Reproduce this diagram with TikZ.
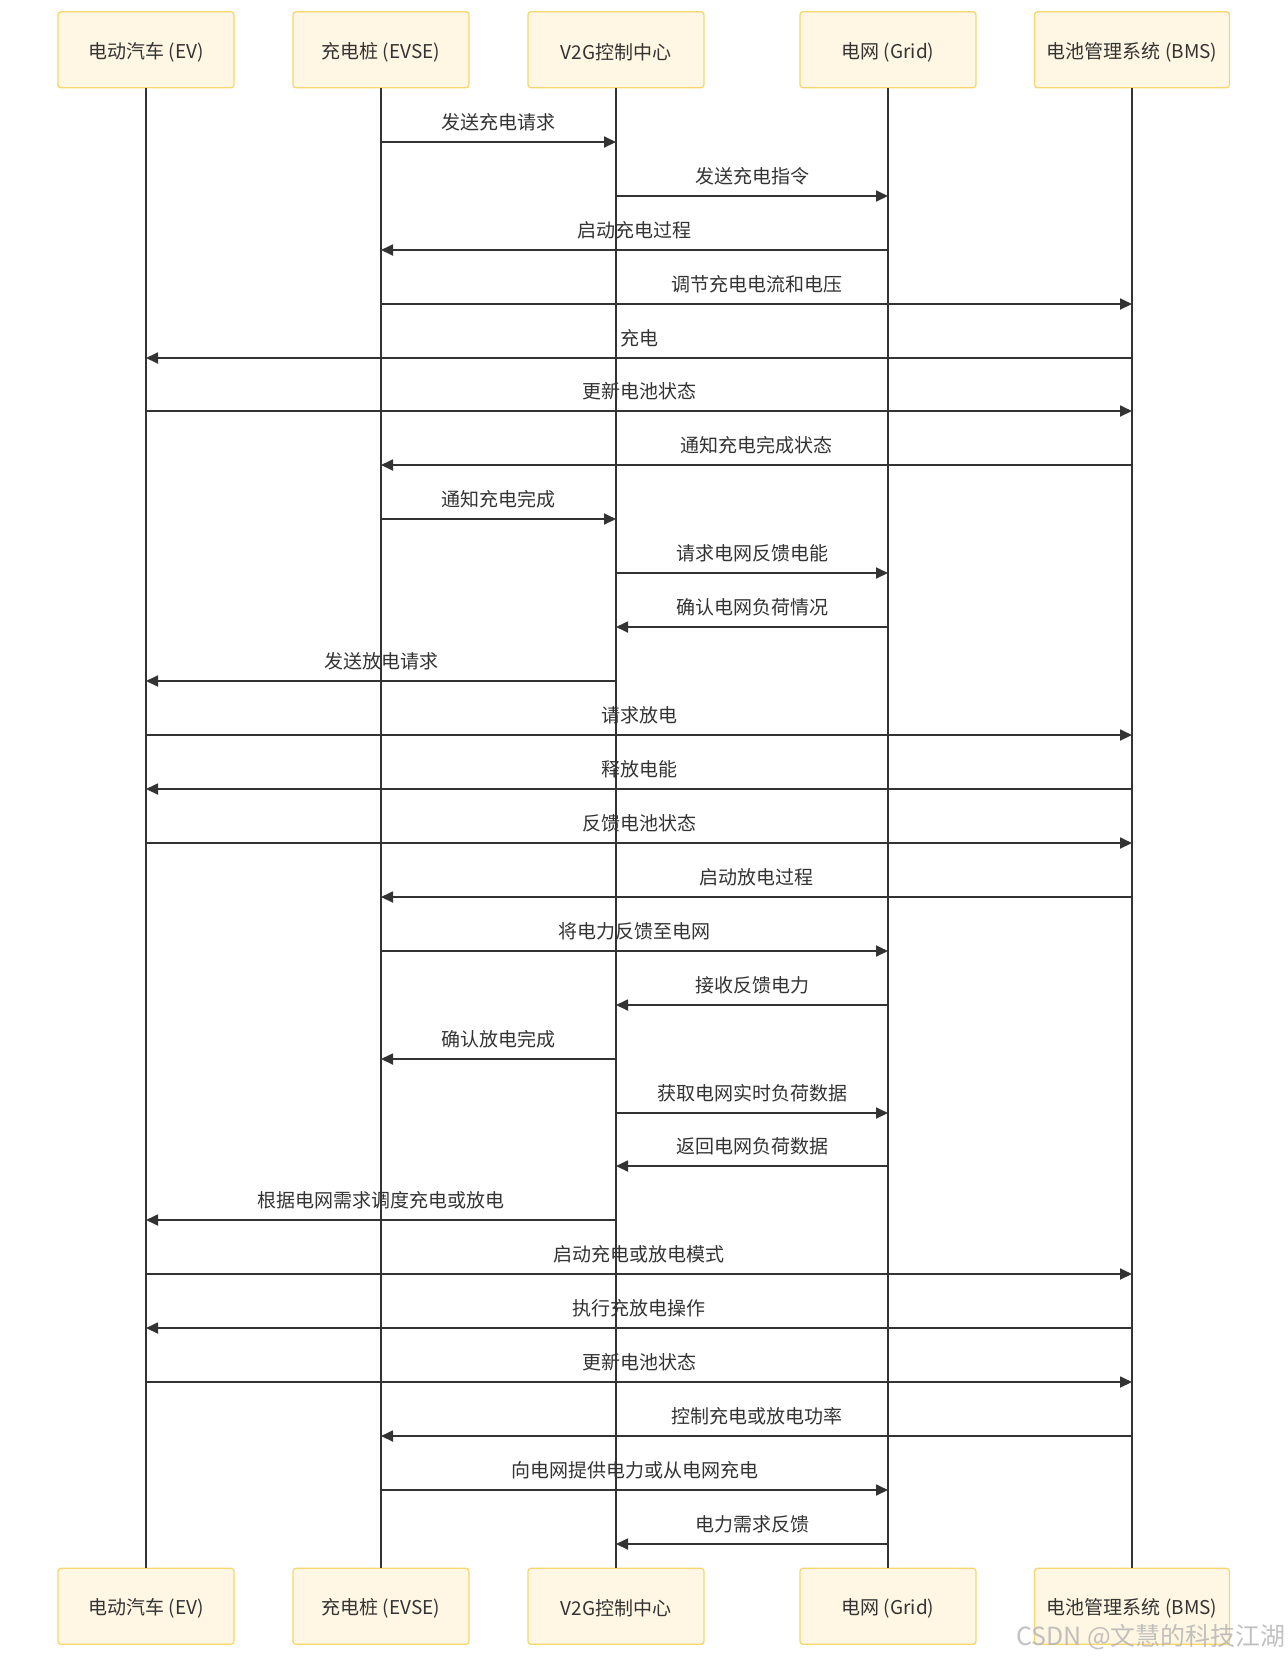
\documentclass[tikz,border=0pt]{standalone}
\usepackage{fontspec}
\setmainfont{Noto Sans CJK SC}
\usetikzlibrary{arrows.meta,calc}
\definecolor{boxfill}{HTML}{FFF7E3}
\definecolor{boxdraw}{HTML}{F9D56E}
\definecolor{ink}{HTML}{333333}
\newcommand\actortext[1]{\raisebox{-2.2pt}[\height][\depth]{#1}}
\begin{document}
\begin{tikzpicture}[x=1pt,y=1pt,
  actor/.style={draw=boxdraw,fill=boxfill,line width=1.3pt,rounded corners=3pt,
    minimum height=76pt,inner sep=0pt,text=ink,font=\fontsize{19}{23}\selectfont},
  lifeline/.style={draw=ink,line width=2pt},
  msg/.style={draw=ink,line width=1.8pt,-{Triangle[length=12pt,width=11pt]}},
  msglabel/.style={text=ink,font=\fontsize{19}{23}\selectfont,inner sep=0pt}]
\useasboundingbox (0,0) rectangle (1288,-1658);
% actors top
\node[actor,minimum width=176pt] (evT)   at (146,-49.8) {\actortext{电动汽车 (EV)}};
\node[actor,minimum width=176pt] (evseT) at (381,-49.8) {\actortext{充电桩 (EVSE)}};
\node[actor,minimum width=176pt] (v2gT)  at (616,-49.8) {\actortext{V2G控制中心}};
\node[actor,minimum width=176pt] (gridT) at (888,-49.8) {\actortext{电网 (Grid)}};
\node[actor,minimum width=195pt] (bmsT)  at (1132,-49.8) {\actortext{电池管理系统 (BMS)}};
% actors bottom
\node[actor,minimum width=176pt] (evB)   at (146,-1606.3) {\actortext{电动汽车 (EV)}};
\node[actor,minimum width=176pt] (evseB) at (381,-1606.3) {\actortext{充电桩 (EVSE)}};
\node[actor,minimum width=176pt] (v2gB)  at (616,-1606.3) {\actortext{V2G控制中心}};
\node[actor,minimum width=176pt] (gridB) at (888,-1606.3) {\actortext{电网 (Grid)}};
\node[actor,minimum width=195pt] (bmsB)  at (1132,-1606.3) {\actortext{电池管理系统 (BMS)}};
% lifelines
\foreach \a in {ev,evse,v2g,grid,bms}{
  \draw[lifeline] (\a T.south) -- (\a B.north);
}
% messages
\foreach \f/\t/\txt [count=\i] in {
  evse/v2g/发送充电请求,
  v2g/grid/发送充电指令,
  grid/evse/启动充电过程,
  evse/bms/调节充电电流和电压,
  bms/ev/充电,
  ev/bms/更新电池状态,
  bms/evse/通知充电完成状态,
  evse/v2g/通知充电完成,
  v2g/grid/请求电网反馈电能,
  grid/v2g/确认电网负荷情况,
  v2g/ev/发送放电请求,
  ev/bms/请求放电,
  bms/ev/释放电能,
  ev/bms/反馈电池状态,
  bms/evse/启动放电过程,
  evse/grid/将电力反馈至电网,
  grid/v2g/接收反馈电力,
  v2g/evse/确认放电完成,
  v2g/grid/获取电网实时负荷数据,
  grid/v2g/返回电网负荷数据,
  v2g/ev/根据电网需求调度充电或放电,
  ev/bms/启动充电或放电模式,
  bms/ev/执行充放电操作,
  ev/bms/更新电池状态,
  bms/evse/控制充电或放电功率,
  evse/grid/向电网提供电力或从电网充电,
  grid/v2g/电力需求反馈}{
  \pgfmathsetmacro{\yy}{-round(141.8+(\i-1)*53.93)}
  \coordinate (s\i) at (\f T.south |- 0,\yy);
  \coordinate (e\i) at (\t T.south |- 0,\yy);
  \draw[msg] (s\i) -- (e\i);
  \node[msglabel] (l\i) at ($(s\i)!0.5!(e\i)+(0,19.5)$) {\txt};
}
% watermark
\node[text=black!30,opacity=0.8,font=\fontsize{25}{28}\selectfont,inner sep=0pt,anchor=east] (wm) at (1286,-1637) {CSDN @文慧的科技江湖};
\end{tikzpicture}
\end{document}
